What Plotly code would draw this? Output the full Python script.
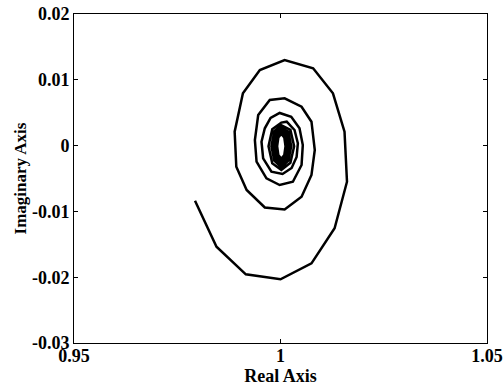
import plotly.graph_objects as go

# Spiral trajectory (Real, Imaginary)
real_part = [
    0.9793, 0.9845, 0.9916, 1.0000, 1.0075, 1.0131, 1.0161, 1.0155, 1.0127, 1.0079,
    1.0010, 0.9950, 0.9909, 0.9889, 0.9893, 0.9918, 0.9962, 1.0010, 1.0051, 1.0075,
    1.0083, 1.0075, 1.0051, 1.0010, 0.9974, 0.9946, 0.9938, 0.9942, 0.9966, 0.9998,
    1.0030, 1.0051, 1.0054, 1.0046, 1.0026, 0.9998, 0.9976, 0.9962, 0.9954, 0.9958,
    0.9978, 1.0005, 1.0027, 1.0039, 1.0042, 1.0034, 1.0015,
    1.0002, 0.9980, 0.9971, 0.9980, 1.0002, 1.0024, 1.0033, 1.0024,
    1.0002, 0.9985, 0.9978, 0.9985, 1.0002, 1.0019, 1.0026, 1.0019,
    1.0002, 0.9988, 0.9982, 0.9988, 1.0002, 1.0016, 1.0022, 1.0016,
    1.0002, 0.9990, 0.9985, 0.9990, 1.0002, 1.0014, 1.0019, 1.0014,
    1.0002, 0.9992, 0.99875, 0.9992, 1.0002, 1.0012, 1.00165, 1.0012,
    1.0002, 0.9993, 0.99895, 0.9993, 1.0002, 1.0011, 1.00145, 1.0011,
    1.0002, 0.9994, 0.9991, 0.9994, 1.0002, 1.0010, 1.0013, 1.0010,
    1.0002, 0.99948, 0.99918, 0.99948, 1.0002, 1.00092, 1.00122, 1.00092,
    1.0002,
]
imag_part = [
    -0.00838, -0.01537, -0.01956, -0.02032, -0.01789, -0.01257, -0.00549, 0.00211, 0.00795, 0.01175,
    0.01301, 0.01149, 0.00795, 0.00211, -0.00321, -0.00675, -0.00941, -0.00971, -0.00777, -0.00447,
    -0.00067, 0.00363, 0.00591, 0.00719, 0.00693, 0.00465, 0.00085, -0.00245, -0.00497, -0.00599,
    -0.00549, -0.00295, 0.00009, 0.00263, 0.00439, 0.00496, 0.00420, 0.00263, 0.00059, -0.00193,
    -0.00397, -0.00432, -0.00340, -0.00173, 0.00035, 0.00237, 0.00363,
    0.00350, 0.00250, -0.00010, -0.00270, -0.00370, -0.00260, -0.00010, 0.00240,
    0.00310, 0.00220, -0.00010, -0.00230, -0.00330, -0.00230, -0.00010, 0.00210,
    0.00270, 0.00190, -0.00010, -0.00210, -0.00290, -0.00210, -0.00010, 0.00190,
    0.00240, 0.00170, -0.00010, -0.00180, -0.00260, -0.00180, -0.00010, 0.00160,
    0.00220, 0.00150, -0.00010, -0.00170, -0.00240, -0.00170, -0.00010, 0.00150,
    0.00200, 0.00140, -0.00010, -0.00160, -0.00220, -0.00160, -0.00010, 0.00140,
    0.00190, 0.00130, -0.00010, -0.00150, -0.00210, -0.00150, -0.00010, 0.00130,
    0.00180, 0.00125, -0.00010, -0.00145, -0.00200, -0.00145, -0.00010, 0.00125,
    0.00178,
]

x_ticks = [0.95, 1.0, 1.05]
x_tick_labels = ["0.95", "1", "1.05"]
y_ticks = [-0.03, -0.02, -0.01, 0.0, 0.01, 0.02]
y_tick_labels = ["-0.03", "-0.02", "-0.01", "0", "0.01", "0.02"]

font_family = "Liberation Serif"

fig = go.Figure()
fig.add_trace(go.Scatter(
    x=real_part, y=imag_part, mode="lines",
    line=dict(color="black", width=2.5),
    showlegend=False, hoverinfo="skip",
))

axis_common = dict(
    showgrid=False, zeroline=False, showline=True, linecolor="black", linewidth=1,
    mirror="allticks", ticks="inside", ticklen=4, tickcolor="black", tickwidth=1,
    tickfont=dict(family=font_family, size=18, color="black", weight="bold"),
    automargin=False,
)

fig.update_layout(
    width=503, height=387,
    margin=dict(l=74, r=16, t=14, b=44),
    paper_bgcolor="white", plot_bgcolor="white",
    font=dict(family=font_family, color="black"),
    xaxis=dict(
        range=[0.95, 1.05], tickvals=x_ticks, ticktext=x_tick_labels,
        ticklabelstandoff=-4,
        title=dict(text="Real Axis", standoff=0,
                   font=dict(family=font_family, size=18, color="black", weight="bold")),
        **axis_common,
    ),
    yaxis=dict(
        range=[-0.03, 0.02], tickvals=y_ticks, ticktext=y_tick_labels,
        title=dict(text="Imaginary Axis", standoff=0,
                   font=dict(family=font_family, size=17, color="black", weight="bold")),
        **axis_common,
    ),
)

fig.write_html("out.html")
